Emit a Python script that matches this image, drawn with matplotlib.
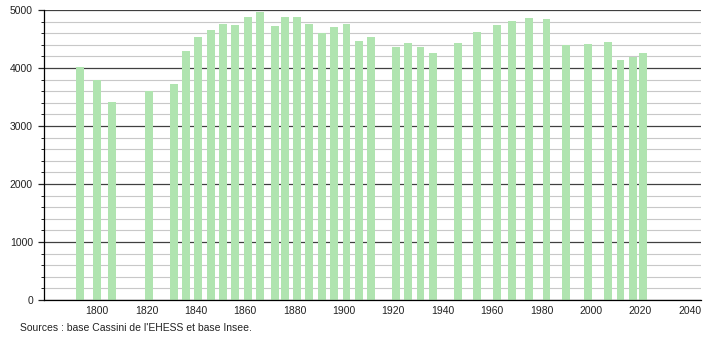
import matplotlib.pyplot as plt
from matplotlib.ticker import MultipleLocator

plt.rcParams['font.family'] = ['Liberation Sans', 'DejaVu Sans']

# --- données (recensements) ---
years = [1793, 1800, 1806, 1821, 1831, 1836, 1841, 1846, 1851, 1856,
         1861, 1866, 1872, 1876, 1881, 1886, 1891, 1896, 1901, 1906,
         1911, 1921, 1926, 1931, 1936, 1946, 1954, 1962, 1968, 1975,
         1982, 1990, 1999, 2007, 2012, 2017, 2021]
population = [4023, 3793, 3414, 3603, 3724, 4293, 4534, 4655, 4759, 4741,
              4879, 4960, 4724, 4879, 4879, 4759, 4603, 4701, 4753, 4466,
              4534, 4362, 4425, 4362, 4264, 4431, 4621, 4747, 4805, 4862,
              4845, 4391, 4420, 4448, 4138, 4184, 4259]
x_ticks = [1800, 1820, 1840, 1860, 1880, 1900, 1920, 1940, 1960, 1980, 2000, 2020, 2040]
y_ticks = [0, 1000, 2000, 3000, 4000, 5000]
source = "Sources : base Cassini de l'EHESS et base Insee."

fig = plt.figure(figsize=(7.1, 3.4), dpi=100)
ax = fig.add_axes([0.062, 0.1176, 0.925, 0.853])

# grille : mineure tous les 200, majeure tous les 1000
ax.set_yticks(y_ticks)
ax.yaxis.set_minor_locator(MultipleLocator(200))
ax.grid(which='minor', axis='y', color='#c8c8c8', linewidth=0.8)
ax.grid(which='major', axis='y', color='#404040', linewidth=0.9)
ax.set_axisbelow(True)

ax.bar(years, population, width=3.2, color='#b0e4b0', linewidth=0)

ax.set_xlim(1778.5, 2044.5)
ax.set_ylim(0, 5000)
ax.set_xticks(x_ticks)

for s in ('top', 'right'):
    ax.spines[s].set_visible(False)
ax.spines['left'].set_color('black')
ax.spines['bottom'].set_color('black')
ax.spines['left'].set_linewidth(0.9)
ax.spines['bottom'].set_linewidth(0.9)

ax.tick_params(axis='x', length=0, pad=4, labelsize=7.5, colors='#222222')
ax.tick_params(axis='y', which='major', length=4, width=0.9, pad=4,
               labelsize=7.5, colors='#222222')
ax.tick_params(axis='y', which='minor', length=2, width=0.7, color='#222222')

fig.text(0.028, 0.035, source, fontsize=7.5, color='#222222', ha='left', va='center')

fig.savefig('out.png', dpi=100)
